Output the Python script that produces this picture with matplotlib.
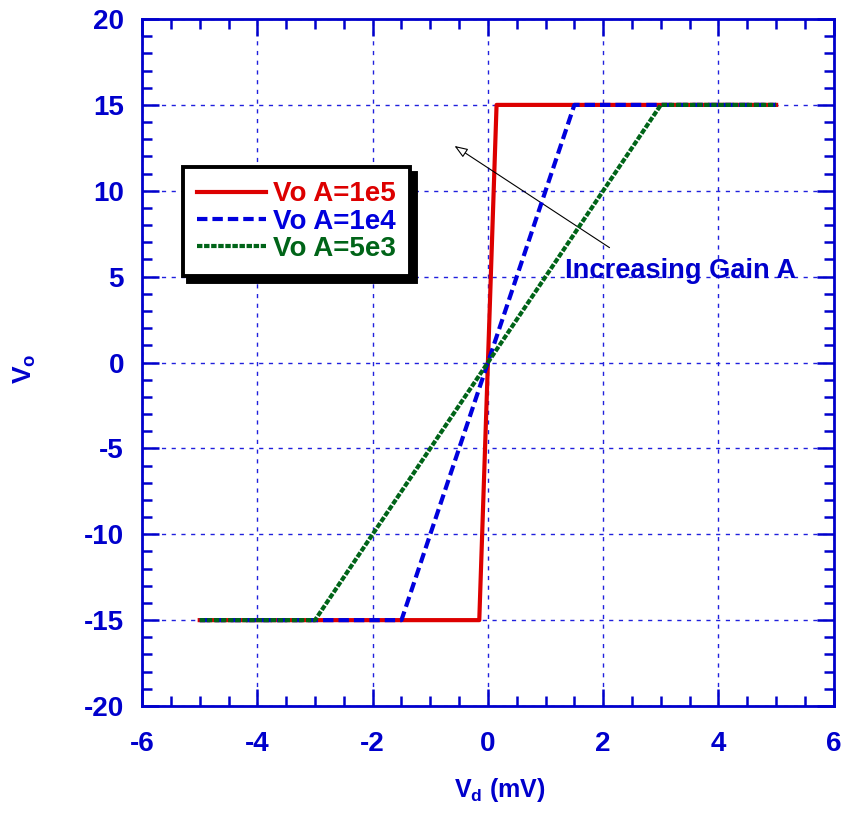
import matplotlib
matplotlib.use("Agg")
import matplotlib.pyplot as plt
from matplotlib.ticker import MultipleLocator

plt.rcParams['font.family'] = ['Liberation Sans', 'DejaVu Sans']
plt.rcParams['font.weight'] = 'bold'
plt.rcParams['axes.unicode_minus'] = False
plt.rcParams['mathtext.fontset'] = 'custom'
plt.rcParams['mathtext.rm'] = 'Liberation Sans:bold'
plt.rcParams['mathtext.bf'] = 'Liberation Sans:bold'
plt.rcParams['mathtext.it'] = 'Liberation Sans:bold'

blue = '#0000CC'

# breakpoints of the transfer curves (Vd in mV, Vo in V)
vd_1e5 = [-5, -0.15, 0.15, 5]
vo_1e5 = [-15, -15, 15, 15]
vd_1e4 = [-5, -1.5, 1.5, 5]
vo_1e4 = [-15, -15, 15, 15]
vd_5e3 = [-5, -3, 3, 5]
vo_5e3 = [-15, -15, 15, 15]

labels = ['Vo A=1e5', 'Vo A=1e4', 'Vo A=5e3']
colors = ['#DD0000', '#0000DD', '#006418']

fig = plt.figure(figsize=(8.56, 8.13), dpi=100)
ax = fig.add_axes([0.166, 0.1316, 0.808, 0.845])

ax.plot(vd_1e5, vo_1e5, color=colors[0], lw=3, label=labels[0], zorder=3)
ax.plot(vd_1e4, vo_1e4, color=colors[1], lw=3, ls=(0, (2.5, 1.2)), label=labels[1], zorder=4)
ax.plot(vd_5e3, vo_5e3, color=colors[2], lw=3, ls=(0, (1.3, 0.4)), label=labels[2], zorder=5)

ax.set_xlim(-6, 6)
ax.set_ylim(-20, 20)
ax.xaxis.set_major_locator(MultipleLocator(2))
ax.xaxis.set_minor_locator(MultipleLocator(0.5))
ax.yaxis.set_major_locator(MultipleLocator(5))
ax.yaxis.set_minor_locator(MultipleLocator(1))

ax.grid(True, which='major', color='#2020DD', lw=1.0, ls=(0, (3, 4)))
ax.tick_params(which='both', direction='in', top=True, right=True, colors=blue,
               labelsize=20, width=1.8)
ax.tick_params(which='major', length=12)
ax.tick_params(which='minor', length=7)
ax.tick_params(axis='x', which='major', pad=18)
ax.tick_params(axis='y', which='major', pad=13)
for lab in ax.get_xticklabels() + ax.get_yticklabels():
    lab.set_fontweight('bold')
for s in ax.spines.values():
    s.set_color(blue)
    s.set_linewidth(2)

ax.set_xlabel(r'$V_d$ (mV)', color=blue, fontsize=18, fontweight='bold')
ax.xaxis.set_label_coords(0.517, -0.102)
ax.set_ylabel(r'$V_o$', color=blue, fontsize=19, fontweight='bold')
ax.yaxis.set_label_coords(-0.150, 0.49)

leg = ax.legend(loc='upper left', bbox_to_anchor=(0.059, 0.784), fontsize=20,
                labelcolor='linecolor', fancybox=False, edgecolor='black',
                handlelength=2.5, handletextpad=0.25, borderpad=0.5, labelspacing=0.05,
                borderaxespad=0,
                shadow={'color': 'black', 'alpha': 1, 'ox': 4, 'oy': -4},
                framealpha=1)
leg.get_frame().set_linewidth(2.8)
for t in leg.get_texts():
    t.set_fontweight('bold')

ax.annotate('', xy=(-0.62, 12.7), xytext=(2.15, 6.6),
            arrowprops=dict(arrowstyle='-|>,head_length=0.8,head_width=0.3',
                            fc='white', ec='black', lw=0.8))
ax.text(1.34, 5.3, 'Increasing Gain A', color=blue, fontsize=19.6, fontweight='bold',
        va='center', ha='left')

fig.savefig('out.png', dpi=100)
